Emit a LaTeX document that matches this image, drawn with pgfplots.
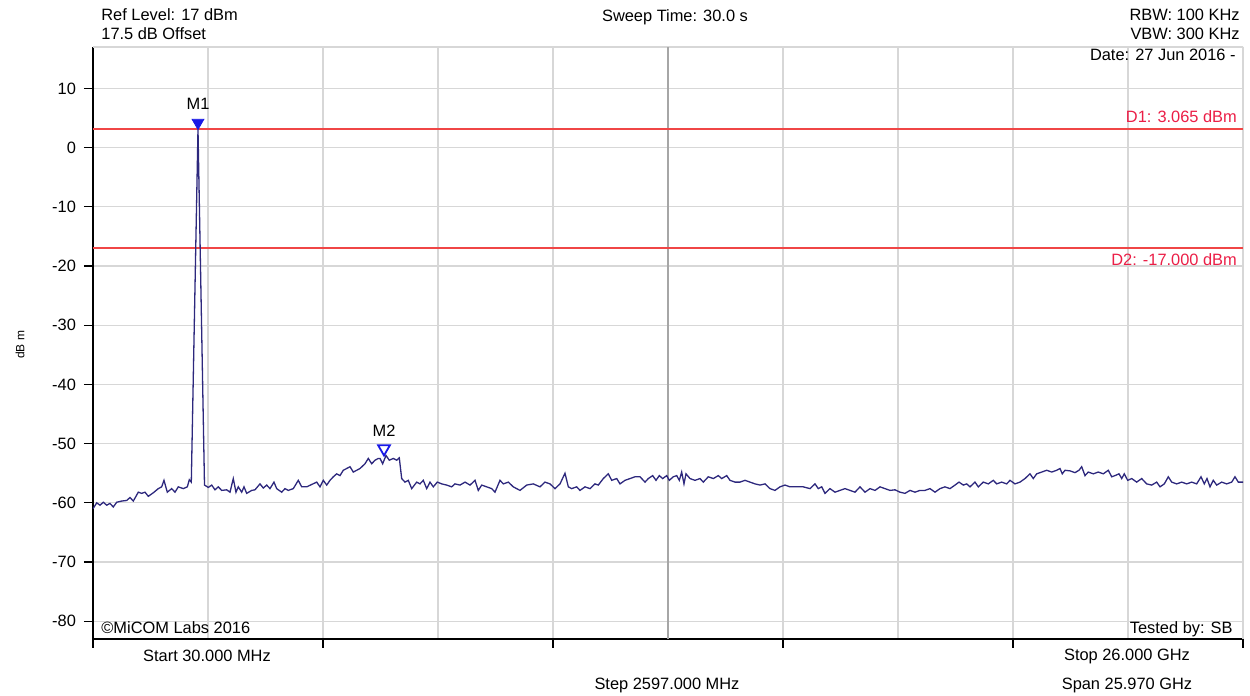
\documentclass[border=0pt]{standalone}
\usepackage{fontspec}
\setmainfont{Liberation Sans}
\usepackage{pgfplots}
\pgfplotsset{compat=1.18}
\usepackage{pgfplotstable}

\definecolor{trace}{RGB}{45,40,125}
\definecolor{dline}{RGB}{240,70,70}
\definecolor{dtext}{RGB}{235,30,70}
\definecolor{gridc}{RGB}{215,215,215}
\definecolor{mkr}{RGB}{25,25,230}

% sweep trace, frequency in GHz, level in dBm
\pgfplotstableread{
f      p
0.030  -61.0
0.114  -60.0
0.188  -60.4
0.263  -59.9
0.339  -60.4
0.414  -60.1
0.488  -60.7
0.565  -59.9
0.678  -59.7
0.791  -59.6
0.866  -59.1
0.940  -59.7
1.053  -58.2
1.130  -58.4
1.204  -58.2
1.279  -58.9
1.392  -58.3
1.505  -57.6
1.581  -57.3
1.633  -56.2
1.708  -58.2
1.807  -57.6
1.882  -58.2
1.956  -57.3
2.069  -57.6
2.160  -57.3
2.205  -56.1
2.250  -56.5
2.401    3.065
2.548  -57.0
2.634  -57.4
2.711  -57.0
2.785  -57.8
2.860  -57.3
2.936  -57.9
3.049  -57.8
3.124  -58.2
3.198  -55.9
3.259  -58.2
3.311  -57.3
3.388  -58.2
3.440  -57.3
3.501  -58.4
3.614  -57.9
3.688  -57.8
3.801  -56.8
3.876  -57.5
3.953  -57.0
4.027  -57.6
4.117  -56.5
4.178  -57.6
4.291  -58.2
4.366  -57.6
4.440  -57.9
4.553  -57.6
4.666  -56.2
4.743  -57.3
4.856  -57.3
4.969  -56.9
5.082  -56.5
5.156  -57.3
5.231  -56.2
5.308  -57.0
5.382  -56.2
5.457  -55.6
5.533  -55.1
5.608  -55.4
5.682  -54.5
5.759  -54.2
5.834  -53.9
5.908  -54.8
5.985  -54.5
6.060  -54.2
6.172  -53.4
6.247  -52.5
6.324  -53.4
6.398  -52.8
6.473  -52.5
6.511  -52.5
6.572  -53.4
6.647  -52.0
6.721  -52.8
6.812  -52.5
6.888  -52.8
6.947  -52.4
7.001  -55.9
7.076  -56.5
7.150  -56.2
7.227  -57.6
7.340  -56.5
7.414  -56.8
7.489  -56.2
7.566  -57.6
7.640  -56.5
7.715  -57.3
7.805  -56.5
7.905  -56.8
8.017  -57.0
8.130  -57.3
8.205  -56.8
8.318  -57.0
8.431  -56.5
8.544  -57.0
8.657  -56.2
8.731  -57.9
8.808  -57.0
8.921  -57.3
9.034  -57.6
9.108  -58.2
9.221  -56.2
9.296  -56.8
9.409  -56.5
9.521  -57.3
9.673  -57.9
9.824  -57.0
9.973  -56.8
10.124 -57.3
10.237 -56.5
10.350 -56.8
10.463 -57.6
10.576 -56.8
10.689 -55.0
10.764 -57.3
10.840 -57.6
10.953 -57.3
11.028 -57.9
11.141 -57.3
11.254 -57.6
11.366 -56.8
11.441 -57.0
11.554 -55.9
11.667 -55.1
11.744 -56.2
11.857 -55.9
11.931 -56.8
12.044 -56.2
12.157 -55.9
12.270 -55.6
12.383 -55.6
12.496 -56.5
12.570 -55.9
12.669 -55.4
12.744 -56.2
12.819 -55.4
12.895 -55.9
12.986 -55.4
13.044 -56.2
13.135 -55.6
13.212 -55.4
13.270 -56.2
13.324 -54.8
13.376 -56.8
13.422 -55.1
13.512 -55.9
13.625 -56.2
13.738 -55.9
13.812 -56.5
13.925 -55.6
14.038 -55.9
14.151 -55.4
14.228 -55.9
14.341 -55.4
14.415 -56.2
14.528 -56.5
14.641 -56.5
14.754 -56.2
14.867 -56.5
14.980 -56.8
15.093 -57.0
15.206 -56.8
15.318 -57.6
15.431 -57.9
15.544 -57.3
15.657 -57.0
15.770 -57.3
15.921 -57.3
16.070 -57.3
16.222 -57.6
16.335 -56.8
16.409 -57.6
16.486 -57.3
16.560 -58.4
16.673 -57.6
16.786 -58.2
16.899 -57.9
17.012 -57.6
17.125 -57.9
17.238 -58.2
17.351 -57.3
17.464 -58.2
17.577 -57.6
17.690 -57.9
17.803 -57.3
17.915 -57.6
18.028 -57.9
18.141 -57.8
18.254 -58.2
18.367 -58.4
18.480 -57.9
18.593 -58.2
18.706 -57.9
18.819 -57.9
18.932 -57.6
19.045 -58.2
19.157 -57.6
19.270 -57.3
19.383 -57.6
19.496 -57.0
19.587 -56.5
19.684 -57.0
19.760 -56.8
19.835 -57.3
19.948 -56.5
20.022 -57.3
20.135 -56.5
20.248 -56.8
20.361 -56.2
20.438 -56.8
20.551 -56.5
20.664 -56.8
20.738 -56.2
20.851 -56.8
20.964 -56.5
21.077 -55.9
21.190 -55.1
21.264 -55.9
21.341 -55.1
21.454 -54.8
21.567 -54.5
21.680 -54.8
21.793 -54.5
21.867 -54.2
21.919 -55.1
21.980 -54.5
22.093 -54.6
22.206 -54.9
22.296 -54.5
22.357 -53.9
22.432 -55.4
22.506 -54.8
22.619 -55.1
22.732 -54.8
22.845 -55.1
22.958 -54.5
23.035 -55.6
23.109 -55.4
23.200 -55.1
23.261 -55.9
23.319 -55.1
23.396 -56.2
23.487 -55.9
23.599 -56.5
23.712 -55.9
23.825 -56.8
23.938 -57.0
24.051 -56.5
24.126 -57.3
24.223 -56.8
24.313 -55.6
24.390 -56.5
24.503 -56.8
24.616 -56.5
24.729 -56.8
24.842 -56.5
24.954 -56.8
25.052 -55.6
25.126 -56.8
25.187 -55.9
25.255 -57.3
25.329 -56.2
25.406 -57.0
25.519 -56.5
25.632 -56.8
25.745 -56.5
25.819 -55.6
25.894 -56.5
26.000 -56.5
}\tracedata

\begin{document}
\begin{tikzpicture}[font=\fontsize{8.2}{9.5}\selectfont]
\path[use as bounding box] (-46.5pt,-28.5pt) rectangle (578.5pt,319.5pt);
\begin{axis}[
  scale only axis,
  width=575pt, height=296pt,
  xmin=0.03, xmax=26, ymin=-83, ymax=17,
  axis x line=bottom, axis y line=left,
  axis line style={-, black, line width=0.8pt},
  xtick={0.03,5.224,10.418,15.612,20.806,26},
  xticklabels={},
  minor xtick={2.627,7.821,13.015,18.209,23.403},
  ytick={-80,-70,...,10},
  grid=both,
  major grid style={gridc, line width=0.55pt},
  minor grid style={gridc, line width=0.55pt},
  tick align=outside,
  major tick length=4.5pt,
  minor tick length=0pt,
  tick style={black, line width=0.6pt},
  /pgf/number format/assume math mode=true,
  yticklabel style={xshift=-0.5pt},
]
  \draw[gridc, line width=0.55pt] (rel axis cs:0,1) -- (rel axis cs:1,1) -- (rel axis cs:1,0);
  \draw[black!35, line width=0.55pt] (axis cs:13.015,-83) -- (axis cs:13.015,17);
  \addplot[dline, line width=1pt] coordinates {(0.03,3.065) (26,3.065)};
  \addplot[dline, line width=1pt] coordinates {(0.03,-17) (26,-17)};
  \addplot[trace, line width=0.65pt] table[x=f, y=p] {\tracedata};
  \addplot[only marks, mark=triangle*, mark size=3.4pt,
    mark options={yshift=3.4pt, rotate=180, fill=mkr, draw=mkr}]
    coordinates {(2.401,3.065)};
  \addplot[only marks, mark=triangle, mark size=3.4pt,
    mark options={yshift=3.4pt, rotate=180, draw=mkr, fill=white, line width=0.9pt}]
    coordinates {(6.602,-52.0)};
  \node at (axis cs:2.401,3.065) [yshift=13pt] {M1};
  \node at (axis cs:6.602,-52.0) [yshift=12.5pt] {M2};
  \node[dtext, anchor=south east, inner sep=0pt] at (axis cs:25.87,4.1) {D1: 3.065 dBm};
  \node[dtext, anchor=north east, inner sep=0pt] at (axis cs:25.87,-17.9) {D2: -17.000 dBm};
\end{axis}
\node[anchor=west, inner sep=0pt] at (4pt,312pt) {Ref Level: 17 dBm};
\node[anchor=west, inner sep=0pt] at (4pt,302.5pt) {17.5 dB Offset};
\node at (291pt,311pt) {Sweep Time: 30.0 s};
\node[anchor=east, inner sep=0pt] at (573.5pt,312pt) {RBW: 100 KHz};
\node[anchor=east, inner sep=0pt] at (573.5pt,302.5pt) {VBW: 300 KHz};
\node[anchor=east, inner sep=0pt] at (571.5pt,292pt) {Date: 27 Jun 2016 -};
\node[anchor=west, inner sep=0pt] at (4pt,5.5pt) {\textcopyright MiCOM Labs 2016};
\node[anchor=east, inner sep=0pt] at (570pt,5pt) {Tested by: SB};
\node at (57pt,-8.5pt) {Start 30.000 MHz};
\node at (517pt,-8.5pt) {Stop 26.000 GHz};
\node at (287pt,-23pt) {Step 2597.000 MHz};
\node at (517pt,-23pt) {Span 25.970 GHz};
\node[rotate=90, font=\fontsize{6}{7}\selectfont] at (-36.5pt,147pt) {dB m};
\end{tikzpicture}
\end{document}
